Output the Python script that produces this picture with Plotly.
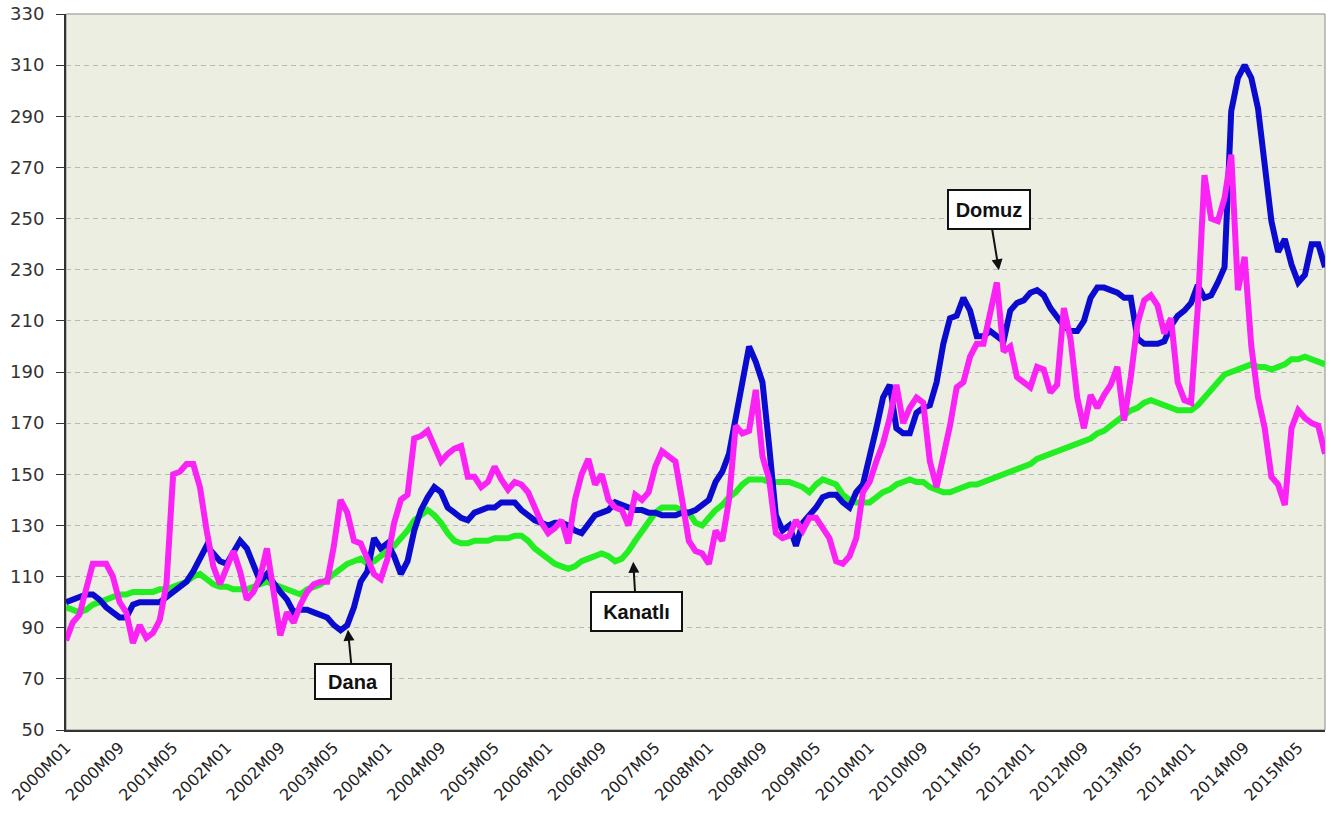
import plotly.graph_objects as go

# Monthly categories 2000M01 .. 2015M09
start_year = 2000
n_months = 189
categories = [f"{start_year + i // 12}M{i % 12 + 1:02d}" for i in range(n_months)]

tick_labels = ["2000M01", "2000M09", "2001M05", "2002M01", "2002M09", "2003M05",
               "2004M01", "2004M09", "2005M05", "2006M01", "2006M09", "2007M05",
               "2008M01", "2008M09", "2009M05", "2010M01", "2010M09", "2011M05",
               "2012M01", "2012M09", "2013M05", "2014M01", "2014M09", "2015M05"]

y_ticks = [50, 70, 90, 110, 130, 150, 170, 190, 210, 230, 250, 270, 290, 310, 330]

dana = [100, 101, 102, 103, 103, 101, 98, 96, 94, 94,
        99, 100, 100, 100, 100, 102, 104, 106, 108, 112,
        117, 122, 119, 116, 115, 119, 124, 121, 114, 108,
        111, 107, 104, 101, 96, 97, 97, 96, 95, 94,
        91, 89, 91, 98, 108, 112, 125, 121, 123, 118,
        111, 116, 128, 136, 141, 145, 143, 137, 135, 133,
        132, 135, 136, 137, 137, 139, 139, 139, 136, 134,
        132, 131, 130, 131, 131, 130, 128, 127, 131, 134,
        135, 136, 139, 138, 137, 136, 136, 135, 135, 134,
        134, 134, 135, 135, 136, 138, 140, 147, 151, 158,
        172, 188, 200, 194, 186, 161, 134, 128, 130, 122,
        131, 134, 137, 141, 142, 142, 139, 137, 143, 146,
        156, 168, 180, 185, 168, 166, 166, 174, 176, 177,
        186, 201, 211, 212, 219, 214, 204, 204, 206, 204,
        202, 214, 217, 218, 221, 222, 220, 215, 211, 208,
        206, 206, 210, 219, 223, 223, 222, 221, 219, 219,
        203, 201, 201, 201, 202, 208, 212, 214, 217, 224,
        219, 220, 225, 231, 292, 305, 310, 305, 293, 269,
        249, 237, 242, 232, 225, 228, 240, 240, 231]

kanatli = [98, 97, 96, 97, 99, 100, 101, 102, 103, 103,
           104, 104, 104, 104, 105, 105, 106, 107, 108, 110,
           111, 109, 107, 106, 106, 105, 105, 105, 106, 107,
           108, 107, 106, 105, 104, 103, 105, 106, 107, 109,
           111, 113, 115, 116, 117, 115, 116, 118, 120, 122,
           125, 128, 132, 134, 136, 134, 131, 127, 124, 123,
           123, 124, 124, 124, 125, 125, 125, 126, 126, 124,
           121, 119, 117, 115, 114, 113, 114, 116, 117, 118,
           119, 118, 116, 117, 120, 124, 128, 132, 135, 137,
           137, 137, 136, 135, 131, 130, 133, 136, 138, 141,
           143, 146, 148, 148, 148, 147, 147, 147, 147, 146,
           145, 143, 146, 148, 147, 146, 142, 140, 139, 139,
           139, 141, 143, 144, 146, 147, 148, 147, 147, 145,
           144, 143, 143, 144, 145, 146, 146, 147, 148, 149,
           150, 151, 152, 153, 154, 156, 157, 158, 159, 160,
           161, 162, 163, 164, 166, 167, 169, 171, 173, 175,
           176, 178, 179, 178, 177, 176, 175, 175, 175, 177,
           180, 183, 186, 189, 190, 191, 192, 193, 192, 192,
           191, 192, 193, 195, 195, 196, 195, 194, 193]

domuz = [85, 92, 95, 106, 115, 115, 115, 110, 100, 96,
         84, 91, 86, 88, 93, 107, 150, 151, 154, 154,
         145, 128, 114, 107, 113, 120, 112, 101, 104, 110,
         121, 102, 87, 96, 92, 99, 104, 107, 108, 108,
         122, 140, 135, 124, 123, 117, 111, 109, 117, 131,
         140, 142, 164, 165, 167, 161, 155, 158, 160, 161,
         149, 149, 145, 147, 153, 148, 144, 147, 146, 143,
         137, 131, 127, 129, 132, 123, 140, 150, 156, 146,
         150, 140, 137, 136, 130, 142, 140, 143, 153, 159,
         157, 155, 140, 124, 120, 119, 115, 128, 124, 140,
         169, 166, 167, 183, 157, 148, 127, 125, 126, 132,
         128, 133, 133, 129, 125, 116, 115, 118, 125, 143,
         147, 155, 162, 172, 185, 170, 176, 180, 178, 155,
         145, 157, 169, 184, 186, 196, 201, 201, 214, 225,
         198, 200, 188, 186, 184, 192, 191, 182, 185, 215,
         203, 180, 168, 181, 176, 181, 185, 192, 171, 188,
         209, 218, 220, 216, 205, 211, 186, 179, 178, 215,
         267, 250, 249, 258, 275, 222, 235, 200, 180, 168,
         149, 146, 138, 168, 175, 172, 170, 169, 158]

fig = go.Figure()
fig.add_trace(go.Scatter(x=categories, y=kanatli, mode="lines", name="Kanatlı",
                         line=dict(color="#22EE22", width=6)))
fig.add_trace(go.Scatter(x=categories, y=dana, mode="lines", name="Dana",
                         line=dict(color="#0B0BCF", width=6)))
fig.add_trace(go.Scatter(x=categories, y=domuz, mode="lines", name="Domuz",
                         line=dict(color="#FA22F5", width=6)))

box_font = dict(family="Liberation Sans, Arial, sans-serif", size=20, color="#111111")
common = dict(xref="x", yref="y", axref="pixel", ayref="pixel", showarrow=True,
              arrowhead=2, arrowsize=1.1, arrowwidth=2, arrowcolor="#111111",
              bgcolor="#FFFFFF", bordercolor="#111111", borderwidth=2,
              font=box_font, standoff=0)
fig.add_annotation(x=42.1, y=89.2, ax=5, ay=52, text="<b>Dana</b>",
                   width=72, height=31, **common)
fig.add_annotation(x=84.7, y=115.8, ax=3, ay=50, text="<b>Kanatlı</b>",
                   width=87, height=35, **common)
fig.add_annotation(x=139.3, y=229.8, ax=-10, ay=-61, text="<b>Domuz</b>",
                   width=78, height=35, **common)

fig.update_layout(
    width=1331, height=832,
    margin=dict(l=66, r=6, t=14, b=102, autoexpand=False),
    paper_bgcolor="#FFFFFF",
    plot_bgcolor="#ECEEE2",
    showlegend=False,
    shapes=[dict(type="rect", xref="paper", yref="paper", x0=0, y0=0, x1=1, y1=1,
                 line=dict(color="#8A8A8A", width=1), layer="below")],
)
fig.update_xaxes(
    type="category",
    range=[0, n_months - 1],
    automargin=False,
    tickmode="array", tickvals=tick_labels, ticktext=tick_labels,
    tickangle=-45,
    tickfont=dict(family="DejaVu Sans, sans-serif", size=16, color="#222222"),
    showgrid=False, ticks="",
    showline=True, linecolor="#333333", linewidth=2,
)
fig.update_yaxes(
    range=[50, 330],
    automargin=False,
    tickmode="array", tickvals=y_ticks,
    tickfont=dict(family="DejaVu Sans, sans-serif", size=18, color="#333333"),
    ticks="outside", ticklen=8, tickcolor="#333333", tickwidth=1,
    ticklabelstandoff=8,
    showgrid=True, gridcolor="#B8B8B8", griddash="5px,4px", gridwidth=1,
    zeroline=False,
    showline=True, linecolor="#333333", linewidth=2,
)

fig.write_html("out.html",
               config={"displayModeBar": False},
               post_script="document.body.style.margin='0';document.body.style.overflow='hidden';")
